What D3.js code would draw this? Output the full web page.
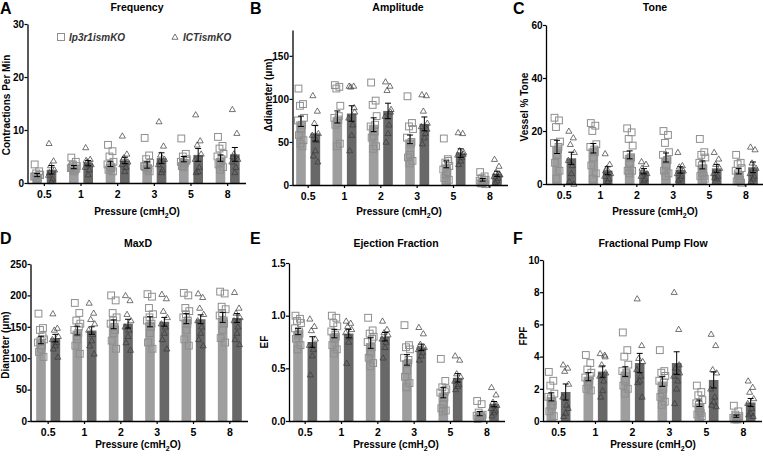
<!DOCTYPE html>
<html><head><meta charset="utf-8">
<script src="https://cdn.jsdelivr.net/npm/d3@7"></script>
<style>
body{margin:0;background:#fff;}
svg text{font-family:"Liberation Sans",Arial,Helvetica,sans-serif;}
</style></head>
<body><svg id="c" width="763" height="457"></svg>
<script>
// ---------- data ----------
const pressures = ["0.5","1","2","3","5","8"];
const seriesNames = ["Ip3r1ismKO","ICTismKO"];

// A Frequency
const freqMeanIp3 = [1.5,3.0,3.6,3.4,4.5,4.7];
const freqSemIp3  = [0.3,0.3,0.5,0.6,0.5,0.6];
const freqMeanICT = [2.5,3.75,4.25,4.7,5.3,5.4];
const freqSemICT  = [0.8,0.5,0.6,1.0,1.2,1.3];
const freqPtsIp3 = [
 [3.5,2.2,1.8,1.5,1.2,1.0,0.8,1.3,1.6,0.9],
 [4.8,4.0,3.5,3.2,2.8,2.5,2.2,3.0,2.7,3.3],
 [7.2,6.0,5.0,4.0,3.5,3.0,2.8,2.5,2.2,3.2],
 [8.5,5.2,4.5,3.8,3.2,2.8,2.5,3.0,2.2,3.5],
 [8.4,5.5,5.0,4.5,4.0,3.8,3.5,3.2,4.2,3.0],
 [8.7,7.0,6.5,5.5,5.0,4.5,4.0,3.5,3.0,2.5]];
const freqPtsICT = [
 [7.5,4.2,3.3,2.5,1.5,0.8,0.3,2.0],
 [6.7,4.5,4.0,3.5,3.0,2.5,1.6,4.3],
 [8.9,5.5,4.8,4.0,3.5,3.0,2.2,4.5],
 [11.6,7.0,5.3,4.5,3.5,2.5,2.0,4.0],
 [12.9,8.0,7.2,5.5,4.5,3.0,2.2,2.0],
 [13.9,9.4,5.5,4.5,4.0,3.0,2.0,5.0]];

// B Amplitude
const ampMeanIp3 = [74,79,70,53,24,6];
const ampSemIp3  = [6,7,8,5,4,1.5];
const ampMeanICT = [60,83,86,71,37,13];
const ampSemICT  = [9,9,9,8,5,3];
const ampPtsIp3 = [
 [112,94,92,78,75,70,65,58,52,48,45],
 [116,114,112,92,78,76,72,70,48,45,80],
 [119,98,93,80,68,62,57,55,45,42,70],
 [103,72,68,65,55,48,35,32,28,25,50],
 [54,28,26,22,18,15,12,8,6,5,30],
 [15,10,8,6,5,4,3,2,1,2,6]];
const ampPtsICT = [
 [104,86,72,60,58,52,40,34,27],
 [115,115,114,85,78,70,58,40,90],
 [120,115,110,88,80,70,60,50,85],
 [105,104,86,72,68,60,55,48,65],
 [61,60,40,38,35,32,28,24,36],
 [30,22,15,12,10,8,5,3,12]];

// C Tone
const toneMeanIp3 = [14,13.5,11,10,7.2,4.8];
const toneSemIp3  = [2.5,1.8,1.5,1.7,1.5,1.0];
const toneMeanICT = [9.7,5,4.8,5.3,5.9,6.3];
const toneSemICT  = [2.3,1.5,1.0,1.2,1.5,2.0];
const tonePtsIp3 = [
 [25,24,21.5,16,15.5,13,11,8,5,2,14],
 [23,22,20,15,14,13,10,7,4,2,12],
 [21,19.5,17,14.5,11,10,8,5,5,4,10],
 [20,18.5,15.5,12,11,9,7,5,4,3,9],
 [17,12,11,10,8,6,4,3,2,7,3],
 [11,8,7.5,6,5,3,2,1,0.5,4,1.5]];
const tonePtsICT = [
 [20,17.5,15,12,9,7,4,1,0],
 [11.5,7.5,6,4,3,2,1,5],
 [8.5,7.5,5,4,3,2,1.5,6],
 [12,7,6.5,5,4,3,2,1.5],
 [12,9.5,7.5,6,4,3,2,2.5],
 [14,13,8,6,4,3,2,1]];

// D MaxD
const maxdMeanIp3 = [129,144,154,158,163,165];
const maxdSemIp3  = [6,7,7,8,8,8];
const maxdMeanICT = [132,144,155,158,162,164];
const maxdSemICT  = [6,6,7,7,7,7];
const maxdPtsIp3 = [
 [171,148,145,130,125,120,115,110,102,128,135],
 [188,172,160,155,145,140,130,120,107,135,150],
 [200,192,172,165,155,150,140,128,115,160,145],
 [202,198,180,170,160,150,140,125,115,165,155],
 [204,200,180,175,165,155,145,130,120,170,160],
 [206,203,182,178,168,160,145,132,125,172,155]];
const maxdPtsICT = [
 [171,148,145,135,130,125,120,115,102],
 [188,172,162,155,145,138,128,120,107],
 [200,192,170,160,150,145,135,125,113],
 [202,195,175,165,155,150,140,130,115],
 [203,197,180,170,160,150,140,130,120],
 [205,180,172,165,160,150,140,130,122]];

// E Ejection Fraction
const efMeanIp3 = [0.85,0.83,0.74,0.58,0.27,0.07];
const efSemIp3  = [0.03,0.04,0.05,0.05,0.05,0.02];
const efMeanICT = [0.75,0.83,0.80,0.70,0.41,0.16];
const efSemICT  = [0.05,0.04,0.04,0.03,0.04,0.025];
const efPtsIp3 = [
 [1.0,0.97,0.95,0.93,0.88,0.85,0.82,0.78,0.72,0.68,0.83],
 [1.0,0.98,0.93,0.9,0.85,0.82,0.78,0.72,0.68,0.64,0.8],
 [0.98,0.86,0.83,0.8,0.75,0.7,0.65,0.6,0.55,0.52,0.78],
 [0.91,0.72,0.7,0.68,0.6,0.55,0.48,0.42,0.36,0.32,0.58],
 [0.59,0.38,0.32,0.3,0.27,0.22,0.16,0.12,0.1,0.09,0.28],
 [0.19,0.16,0.08,0.06,0.05,0.04,0.03,0.02,0.03,0.04,0.05]];
const efPtsICT = [
 [0.97,0.9,0.86,0.78,0.72,0.68,0.62,0.44],
 [0.95,0.93,0.9,0.87,0.84,0.8,0.75,0.55],
 [0.95,0.87,0.84,0.82,0.78,0.75,0.7,0.6],
 [0.89,0.83,0.73,0.7,0.68,0.65,0.62,0.58],
 [0.62,0.58,0.45,0.42,0.38,0.35,0.33,0.3],
 [0.32,0.25,0.18,0.15,0.12,0.1,0.08,0.05]];

// F Fractional Pump Flow
const fpfMeanIp3 = [1.5,2.75,3.07,2.45,1.1,0.3];
const fpfSemIp3  = [0.25,0.25,0.3,0.3,0.2,0.07];
const fpfMeanICT = [1.8,3.07,3.6,3.6,2.55,1.15];
const fpfSemICT  = [0.5,0.35,0.6,0.7,0.5,0.25];
const fpfPtsIp3 = [
 [3.05,2.5,2.2,1.7,1.5,1.2,0.9,0.6,0.3,1.4,1.0],
 [4.1,3.6,3.2,3.0,2.7,2.5,2.2,2.0,1.9,2.4,2.8],
 [5.5,4.4,4.0,3.5,3.1,3.0,2.5,2.2,2.0,1.7,2.9],
 [4.4,3.1,3.0,2.8,2.5,2.0,1.7,1.5,1.2,1.0,2.4],
 [2.2,1.8,1.6,1.3,1.1,0.8,0.6,0.4,0.3,1.0,0.5],
 [0.95,0.6,0.4,0.3,0.2,0.15,0.1,0.1,0.2,0.3,0.1]];
const fpfPtsICT = [
 [3.5,3.3,3.1,2.3,1.5,1.0,0.5,0.3,0.8],
 [4.2,4.1,3.5,3.0,2.8,2.5,1.9,1.5,4.0],
 [7.6,4.7,3.9,3.7,3.2,2.8,2.5,2.4,1.5],
 [8.0,5.7,3.3,3.0,2.8,2.5,2.0,1.1,3.5],
 [5.4,4.7,3.2,3.0,2.0,1.5,1.2,1.0,0.9],
 [2.5,2.1,1.8,1.4,1.1,0.8,0.5,0.4,0.3]];

const panelTitles = ["Frequency","Amplitude","Tone","MaxD","Ejection Fraction","Fractional Pump Flow"];
const panelLetters = ["A","B","C","D","E","F"];
const yLabels = ["Contractions Per Min","\u0394diameter (\u03bcm)","Vessel % Tone","Diameter (\u03bcm)","EF","FPF"];
const yMax = [30,180,60,250,1.5,10];
const yTicks = [[0,10,20,30],[0,50,100,150],[0,20,40,60],[0,50,100,150,200,250],[0,0.5,1.0,1.5],[0,2,4,6,8,10]];

// ---------- layout ----------
const panels = [
 {x0:26,  x1:246, ax:27.5, top:24,  bottom:183, data:[freqMeanIp3,freqSemIp3,freqMeanICT,freqSemICT,freqPtsIp3,freqPtsICT], lx:0,   ly:14,  tx:137, ty:11,  ylx:10,  yly:105, xtx:137, xty:215, fmt:d3.format("d")},
 {x0:290, x1:508, ax:292.5, top:30, bottom:185, data:[ampMeanIp3,ampSemIp3,ampMeanICT,ampSemICT,ampPtsIp3,ampPtsICT], lx:250, ly:14,  tx:398, ty:11,  ylx:271.5, yly:95,  xtx:399, xty:215, fmt:d3.format("d")},
 {x0:546, x1:764, ax:546, top:25,  bottom:184, data:[toneMeanIp3,toneSemIp3,toneMeanICT,toneSemICT,tonePtsIp3,tonePtsICT], lx:513, ly:14, tx:655, ty:11, ylx:527.5, yly:107, xtx:655, xty:215, fmt:d3.format("d")},
 {x0:30,  x1:248, ax:30.5, top:264, bottom:421, data:[maxdMeanIp3,maxdSemIp3,maxdMeanICT,maxdSemICT,maxdPtsIp3,maxdPtsICT], lx:0, ly:244, tx:138, ty:247, ylx:9, yly:345, xtx:138, xty:448, fmt:d3.format("d")},
 {x0:287, x1:505, ax:289, top:263, bottom:421, data:[efMeanIp3,efSemIp3,efMeanICT,efSemICT,efPtsIp3,efPtsICT], lx:250, ly:244, tx:396, ty:247, ylx:267.5, yly:342, xtx:396, xty:448, fmt:d3.format(".1f")},
 {x0:540, x1:762, ax:543, top:260, bottom:421, data:[fpfMeanIp3,fpfSemIp3,fpfMeanICT,fpfSemICT,fpfPtsIp3,fpfPtsICT], lx:513, ly:244, tx:653, ty:247, ylx:527, yly:336, xtx:653, xty:448, fmt:d3.format("d")}
];

const lightFill = "#9e9e9e", darkFill = "#686868";
const sqStroke = "#8e8e8e", triStroke = "#3a3a3a";
const jit = [-2.5,2,-1,3,-3,1,0,-2,2.5,-0.5,1.5];

const svg = d3.select("#c");
const tri = d3.symbol().type(d3.symbolTriangle).size(16);

panels.forEach((p,i)=>{
  const g = svg.append("g");
  const x = d3.scaleBand().domain(pressures).range([p.x0,p.x1]);
  const xs = d3.scaleBand().domain(seriesNames).range([-12,12]).paddingInner(0.33).paddingOuter(0);
  const y = d3.scaleLinear().domain([0,yMax[i]]).range([p.bottom,p.top]);
  const [m1,s1,m2,s2,pt1,pt2] = p.data;
  const bw = xs.bandwidth();

  const series = [
    {name:seriesNames[0], mean:m1, sem:s1, pts:pt1, fill:lightFill},
    {name:seriesNames[1], mean:m2, sem:s2, pts:pt2, fill:darkFill}
  ];
  const left = (s,k) => x(pressures[k]) + x.bandwidth()/2 + xs(s.name);

  series.forEach(s=>{
    g.selectAll(null).data(s.mean).enter().append("rect")
      .attr("x",(d,k)=>left(s,k)).attr("width",bw)
      .attr("y",d=>y(d)).attr("height",d=>p.bottom-y(d))
      .attr("fill",s.fill);
  });
  series.forEach((s,si)=>{
    s.pts.forEach((arr,k)=>{
      const c = left(s,k) + bw/2;
      arr.forEach((v,j)=>{
        const px = c + jit[j % jit.length];
        if(si===0){
          g.append("rect").attr("x",px-3.4).attr("y",y(v)-3.4).attr("width",6.8).attr("height",6.8)
            .attr("fill","none").attr("stroke",sqStroke).attr("stroke-width",1);
        } else {
          g.append("path").attr("d",tri).attr("transform",`translate(${px},${y(v)+0.5})`)
            .attr("fill","none").attr("stroke",triStroke).attr("stroke-width",0.7);
        }
      });
    });
  });
  series.forEach(s=>{
    s.mean.forEach((m,k)=>{
      const c = left(s,k) + bw/2, lo = y(m - s.sem[k]), hi = y(m + s.sem[k]);
      g.append("line").attr("x1",c).attr("x2",c).attr("y1",lo).attr("y2",hi).attr("stroke","#000").attr("stroke-width",1);
      [lo,hi].forEach(yy=>g.append("line").attr("x1",c-3).attr("x2",c+3).attr("y1",yy).attr("y2",yy).attr("stroke","#000").attr("stroke-width",1));
    });
  });

  // axes
  const ya = g.append("g").attr("transform",`translate(${p.ax},0)`)
    .call(d3.axisLeft(y).tickValues(yTicks[i]).tickFormat(p.fmt).tickSize(3).tickPadding(0.5).tickSizeOuter(0));
  const xa = g.append("g").attr("transform",`translate(0,${p.bottom})`)
    .call(d3.axisBottom(x).tickSize(3).tickSizeOuter(0));
  xa.select(".domain").attr("d",`M${p.ax},0.5H${p.x1}`);
  [ya,xa].forEach(a=>{
    a.select(".domain").attr("stroke","#000").attr("stroke-width",1.3);
    a.selectAll(".tick line").attr("stroke","#000").attr("stroke-width",1.2);
    a.selectAll("text").attr("font-size",10.5).attr("font-weight","bold").attr("fill","#000")
      .style("font-family",'"Liberation Sans",Arial,sans-serif');
  });
  ya.selectAll("text").attr("font-size",10);
  xa.selectAll("text").attr("dy","0.85em");

  // texts
  g.append("text").attr("x",p.lx).attr("y",p.ly).text(panelLetters[i])
    .attr("font-size",16).attr("font-weight","bold");
  g.append("text").attr("x",p.tx).attr("y",p.ty).attr("text-anchor","middle").text(panelTitles[i])
    .attr("font-size",10.5).attr("font-weight","bold");
  g.append("text").attr("transform",`translate(${p.ylx},${p.yly}) rotate(-90)`).attr("text-anchor","middle")
    .text(yLabels[i]).attr("font-size",10).attr("font-weight","bold");
  const xt = g.append("text").attr("x",p.xtx).attr("y",p.xty).attr("text-anchor","middle")
    .attr("font-size",10).attr("font-weight","bold");
  xt.append("tspan").text("Pressure (cmH");
  xt.append("tspan").text("2").attr("font-size",7).attr("dy",3);
  xt.append("tspan").text("O)").attr("dy",-3);
});

// legend in panel A
const lg = svg.append("g");
lg.append("rect").attr("x",57.5).attr("y",33.5).attr("width",7).attr("height",7)
  .attr("fill","none").attr("stroke",sqStroke).attr("stroke-width",1);
lg.append("text").attr("x",69).attr("y",41).text(seriesNames[0])
  .attr("font-size",10).attr("font-style","italic").attr("font-weight","bold").attr("fill","#333");
lg.append("path").attr("d",tri).attr("transform","translate(175,37.5)")
  .attr("fill","none").attr("stroke",triStroke).attr("stroke-width",0.7);
lg.append("text").attr("x",183).attr("y",41).text(seriesNames[1])
  .attr("font-size",10).attr("font-style","italic").attr("font-weight","bold").attr("fill","#333");
</script></body></html>
